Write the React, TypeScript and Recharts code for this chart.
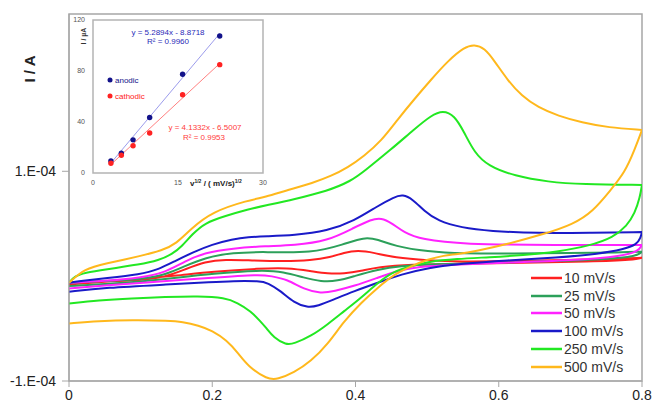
import React from 'react';
import { ComposedChart, Legend, Line, LineChart, ReferenceArea, XAxis, YAxis } from 'recharts';

// potentials in V, currents in µA (axis shows A); the switching vertex at 0.8 V is listed
// three times so the smoothed path keeps its sharp turn
const toPts = (rows: number[][]) => rows.map(([e, i]) => ({ e, i }));

const cv10 = toPts([
  [0, -6.3], [0.05, -5.0], [0.1, -4.0], [0.134, -0.9], [0.162, 6.4], [0.19, 13.8], [0.218, 16.0],
  [0.254, 15.0], [0.3, 14.2], [0.338, 15.0], [0.365, 18.0], [0.384, 22.4], [0.403, 24.6], [0.426, 22.4],
  [0.454, 17.6], [0.501, 15.0], [0.548, 13.8], [0.6, 14.2], [0.7, 15.5], [0.76, 16.5],
  [0.8, 17.6], [0.8, 17.6], [0.8, 17.6],
  [0.79, 15.5], [0.727, 13.8], [0.634, 12.8], [0.541, 11.9], [0.478, 11.2], [0.431, 8.7], [0.408, 4.9],
  [0.384, 2.3], [0.361, 2.3], [0.338, 4.9], [0.305, 8.0], [0.267, 7.4], [0.2, 4.2], [0.15, 0.5],
  [0.1, -2.5], [0.05, -5.5], [0, -7.9],
]);

const cv25 = toPts([
  [0, -6.3], [0.05, -4.7], [0.1, -3.1], [0.134, 1.0], [0.162, 9.6], [0.19, 17.6], [0.228, 22.4],
  [0.275, 23.3], [0.338, 21.7], [0.384, 30.3], [0.412, 37.3], [0.431, 35.1], [0.454, 28.7], [0.501, 23.3],
  [0.548, 21.4], [0.62, 21.7], [0.7, 22.0], [0.77, 22.5],
  [0.8, 23.3], [0.8, 23.3], [0.8, 23.3],
  [0.793, 19.1], [0.751, 16.0], [0.657, 13.8], [0.541, 11.9], [0.501, 11.2], [0.464, 9.6], [0.431, 6.4],
  [0.398, 0], [0.375, -4.7], [0.352, -5.3], [0.328, -1.5], [0.3, 4.2], [0.267, 5.8], [0.2, 2.3],
  [0.15, -1.5], [0.1, -5.3], [0.05, -7.5], [0, -9.5],
]);

const cv50 = toPts([
  [0, -6.3], [0.05, -4.7], [0.1, -1.5], [0.134, 3.3], [0.162, 14.4], [0.19, 22.4], [0.228, 26.5],
  [0.275, 28.7], [0.314, 29.4], [0.361, 33.5], [0.398, 46.2], [0.422, 54.2], [0.436, 55.6], [0.45, 51.0],
  [0.468, 41.4], [0.492, 35.1], [0.548, 30.3], [0.68, 29.7],
  [0.8, 29.7], [0.8, 29.7], [0.8, 29.7],
  [0.795, 23.9], [0.774, 19.1], [0.704, 15.0], [0.611, 12.8], [0.541, 11.2], [0.501, 9.6], [0.464, 6.4],
  [0.431, -1.5], [0.398, -9.5], [0.37, -14.3], [0.352, -16.5], [0.328, -12.6], [0.305, -3.1], [0.282, 0],
  [0.267, 1.7], [0.2, -1.5], [0.1, -6.3], [0.05, -9.0], [0, -11.7],
]);

const cv100 = toPts([
  [0, -6.3], [0.022, -4.1], [0.05, -2.1], [0.1, 1.7], [0.125, 6.4], [0.148, 14.4], [0.172, 22.4],
  [0.2, 30.3], [0.228, 35.1], [0.25, 37.3], [0.275, 38.0], [0.314, 38.9], [0.361, 43.0], [0.398, 52.6],
  [0.431, 66.9], [0.454, 75.5], [0.466, 78.0], [0.48, 73.3], [0.496, 62.1], [0.515, 52.6], [0.548, 46.2],
  [0.587, 43.0], [0.657, 40.8], [0.727, 41.4],
  [0.8, 42.0], [0.8, 42.0], [0.8, 42.0],
  [0.798, 36.7], [0.793, 30.3], [0.774, 25.5], [0.741, 21.4], [0.681, 17.6], [0.611, 15.0], [0.548, 11.9],
  [0.501, 8.0], [0.464, 1.7], [0.431, -6.3], [0.398, -14.3], [0.37, -22.2], [0.347, -28.5], [0.333, -30.0],
  [0.314, -25.3], [0.296, -14.3], [0.277, -6.3], [0.267, -4.7], [0.228, -4.7], [0.2, -5.6], [0.14, -7.9],
  [0.05, -11.0], [0, -14.9],
]);

const cv250 = toPts([
  [0, -6.3], [0.008, 0], [0.022, 3.2], [0.05, 6.4], [0.1, 11.2], [0.125, 15.0], [0.144, 20.8],
  [0.158, 28.7], [0.172, 39.9], [0.19, 51.0], [0.218, 57.3], [0.25, 63.7], [0.275, 67.5], [0.314, 73.3],
  [0.361, 81.2], [0.394, 90.8], [0.412, 100], [0.45, 121], [0.482, 140.1], [0.506, 153.5], [0.522, 158.0],
  [0.538, 153.5], [0.552, 136.9], [0.566, 117.8], [0.585, 105.1], [0.622, 95.5], [0.669, 89.8],
  [0.716, 87.6],
  [0.8, 87.0], [0.8, 87.0], [0.8, 87.0],
  [0.797, 75], [0.79, 60], [0.779, 48], [0.76, 37], [0.727, 29], [0.681, 23], [0.634, 20], [0.587, 18],
  [0.541, 16.5], [0.501, 13.8], [0.478, 9.6], [0.454, 4.9], [0.431, -6.3], [0.408, -20.6], [0.384, -33.4],
  [0.361, -46.1], [0.338, -57.2], [0.314, -64.5], [0.303, -65.5], [0.286, -58.8], [0.275, -49],
  [0.267, -43], [0.254, -33.4], [0.235, -25.3], [0.218, -20.6], [0.181, -19.0], [0.134, -19.9],
  [0.088, -21.2], [0.041, -23.1], [0, -26],
]);

const cv500 = toPts([
  [0, -6.3], [0.022, 7.1], [0.05, 11.9], [0.1, 19.2], [0.13, 24.5], [0.15, 31], [0.17, 45], [0.2, 61.5],
  [0.25, 72.3], [0.275, 75.5], [0.3, 81], [0.342, 89.2], [0.366, 95.5], [0.389, 103.5], [0.412, 114.6],
  [0.436, 128.9], [0.459, 149.6], [0.482, 168.7], [0.506, 187.8], [0.529, 205.3], [0.552, 218.5],
  [0.566, 221.0], [0.58, 217.5], [0.594, 205.3], [0.613, 186.2], [0.632, 171.9], [0.655, 160.8],
  [0.683, 152.8], [0.716, 146.5], [0.753, 141.7],
  [0.8, 139.4], [0.8, 139.4], [0.8, 139.4],
  [0.79, 121], [0.776, 98.7], [0.755, 81.2], [0.732, 62.1], [0.704, 49.4], [0.662, 39.9], [0.611, 30.3],
  [0.569, 23.9], [0.541, 20.8], [0.524, 19.8], [0.501, 16.0], [0.478, 9.6], [0.454, 1.7], [0.431, -11.0],
  [0.408, -25.3], [0.384, -42.9], [0.361, -65.2], [0.338, -81.1], [0.314, -92.2], [0.291, -98.5],
  [0.277, -98.5], [0.25, -86], [0.237, -74], [0.22, -61], [0.2, -52], [0.181, -47], [0.158, -43.5],
  [0.14, -42.5], [0.088, -41.9], [0.041, -42.9], [0, -45.1],
]);

const SERIES = [
  { name: '10 mV/s', color: '#ff2020', data: cv10 },
  { name: '25 mV/s', color: '#2ca05a', data: cv25 },
  { name: '50 mV/s', color: '#ff22ff', data: cv50 },
  { name: '100 mV/s', color: '#1a1ac8', data: cv100 },
  { name: '250 mV/s', color: '#22e822', data: cv250 },
  { name: '500 mV/s', color: '#ffb81c', data: cv500 },
];

const xTicks = [0, 0.2, 0.4, 0.6, 0.8];
const yTicks = [-100, 100];

// inset: peak current vs sqrt(scan rate)
const rootRate = [3.16, 5.0, 7.07, 10.0, 15.81, 22.36];
const anodicPeak = [9.5, 15.5, 26, 43.5, 77.5, 107.5];
const cathodicPeak = [7.6, 13.9, 21.4, 31.4, 61.4, 85.0];
const anodicTrend = [{ x: 3.0, y: 7.0 }, { x: 22.36, y: 109.4 }];
const cathodicTrend = [{ x: 3.0, y: 6.0 }, { x: 22.36, y: 85.9 }];

const anodicPts = rootRate.map((x, k) => ({ x, y: anodicPeak[k] }));
const cathodicPts = rootRate.map((x, k) => ({ x, y: cathodicPeak[k] }));

const GRID = '#a6a6a6';
const FONT = '"Liberation Sans", Arial, sans-serif';

const fmtAmp = (v: number) => {
  if (v === 0) return '0';
  const a = v / 1e6;
  const exp = Math.floor(Math.log10(Math.abs(a)) + 1e-9);
  const m = Math.round(a / Math.pow(10, exp));
  return `${m}.E-${String(-exp).padStart(2, '0')}`;
};

function MainLegend() {
  return (
    <div style={{ fontFamily: FONT }}>
      {SERIES.map((s) => (
        <div key={s.name} style={{ display: 'flex', alignItems: 'center', height: 17.8 }}>
          <svg width={31} height={4}>
            <line x1={0} y1={2} x2={31} y2={2} stroke={s.color} strokeWidth={2.5} />
          </svg>
          <span style={{ fontSize: 14, color: '#333', marginLeft: 2 }}>{s.name}</span>
        </div>
      ))}
    </div>
  );
}

function InsetLegend() {
  const items = [
    { name: 'anodic', color: '#12128a' },
    { name: 'cathodic', color: '#ff2222' },
  ];
  return (
    <div style={{ fontFamily: FONT }}>
      {items.map((it) => (
        <div key={it.name} style={{ display: 'flex', alignItems: 'center', height: 16 }}>
          <svg width={6} height={6}>
            <circle cx={3} cy={3} r={2.5} fill={it.color} />
          </svg>
          <span style={{ fontSize: 8, color: it.color, marginLeft: 2 }}>{it.name}</span>
        </div>
      ))}
    </div>
  );
}

function Inset() {
  return (
    <ComposedChart width={290} height={200} margin={{ top: 20, right: 27, bottom: 7, left: 73 }}>
      <XAxis
        type="number"
        dataKey="x"
        domain={[0, 30]}
        ticks={[0, 15, 30]}
        height={20}
        tickSize={0}
        tickMargin={7}
        axisLine={false}
        tick={{ fontSize: 7, fill: '#555' }}
      />
      <YAxis
        type="number"
        dataKey="y"
        domain={[0, 120]}
        ticks={[0, 40, 80, 120]}
        width={20}
        tickSize={0}
        tickMargin={8}
        axisLine={false}
        tick={{ fontSize: 7, fill: '#555' }}
      />
      <ReferenceArea x1={0} x2={30} y1={0} y2={120} fill="none" stroke="#b4b4b4" strokeWidth={1.5} />
      <Line data={anodicTrend} dataKey="y" stroke="#9c9cec" strokeWidth={1} dot={false} legendType="none" isAnimationActive={false} />
      <Line data={cathodicTrend} dataKey="y" stroke="#ff8080" strokeWidth={1} dot={false} legendType="none" isAnimationActive={false} />
      <Line data={anodicPts} dataKey="y" name="anodic" stroke="none" dot={{ r: 2.7, fill: '#12128a', stroke: 'none' }} isAnimationActive={false} />
      <Line data={cathodicPts} dataKey="y" name="cathodic" stroke="none" dot={{ r: 2.7, fill: '#ff2222', stroke: 'none' }} isAnimationActive={false} />
      <Legend content={InsetLegend} layout="vertical" align="center" verticalAlign="middle" wrapperStyle={{ left: 107, top: 72, width: 60 }} />
      <text x={168} y={35} fontSize={8} fill="#2a2ab8" textAnchor="middle">y = 5.2894x - 8.8718</text>
      <text x={168} y={44} fontSize={8} fill="#2a2ab8" textAnchor="middle">R² = 0.9960</text>
      <text x={205} y={130} fontSize={8} fill="#ff3b3b" textAnchor="middle">y = 4.1332x - 6.5007</text>
      <text x={204} y={140} fontSize={8} fill="#ff3b3b" textAnchor="middle">R² = 0.9953</text>
      <text x={86} y={36} fontSize={7} fontWeight="bold" fill="#333" textAnchor="middle" transform="rotate(-90 86 36)">I / µA</text>
      <text x={190} y={186} fontSize={8} fontWeight="bold" fill="#222">
        v<tspan dy={-3} fontSize={5}>1/2</tspan>
        <tspan dy={3}> / ( mV/s)</tspan>
        <tspan dy={-3} fontSize={5}>1/2</tspan>
      </text>
    </ComposedChart>
  );
}

export default function App() {
  return (
    <div style={{ position: 'relative', width: 655, height: 405, fontFamily: FONT, background: '#fff' }}>
      <style>{'body{margin:0}'}</style>
      <LineChart width={655} height={405} margin={{ top: 14, right: 13, bottom: 0, left: 0 }}>
        <XAxis
          type="number"
          dataKey="e"
          domain={[0, 0.8]}
          ticks={xTicks}
          height={24}
          tickSize={6}
          tickMargin={3}
          stroke={GRID}
          tick={{ fontSize: 14, fill: '#222' }}
          allowDataOverflow
        />
        <YAxis
          type="number"
          dataKey="i"
          domain={[-100, 250]}
          ticks={yTicks}
          width={69}
          tickSize={7}
          tickMargin={6}
          stroke={GRID}
          tickFormatter={fmtAmp}
          tick={{ fontSize: 14, fill: '#222' }}
          allowDataOverflow
        />
        <ReferenceArea x1={0} x2={0.8} y1={-100} y2={250} fill="none" stroke={GRID} strokeWidth={1.5} />
        {SERIES.map((s) => (
          <Line
            key={s.name}
            data={s.data}
            dataKey="i"
            name={s.name}
            type="basis"
            stroke={s.color}
            strokeWidth={2}
            dot={false}
            isAnimationActive={false}
          />
        ))}
        <Legend content={MainLegend} layout="vertical" align="center" verticalAlign="middle" wrapperStyle={{ left: 531, top: 269, width: 120 }} />
        <text x={35} y={69} fontSize={15} fontWeight="bold" fill="#222" textAnchor="middle" transform="rotate(-90 35 69)">I / A</text>
      </LineChart>
      <div style={{ position: 'absolute', left: 0, top: 0 }}>
        <Inset />
      </div>
    </div>
  );
}
